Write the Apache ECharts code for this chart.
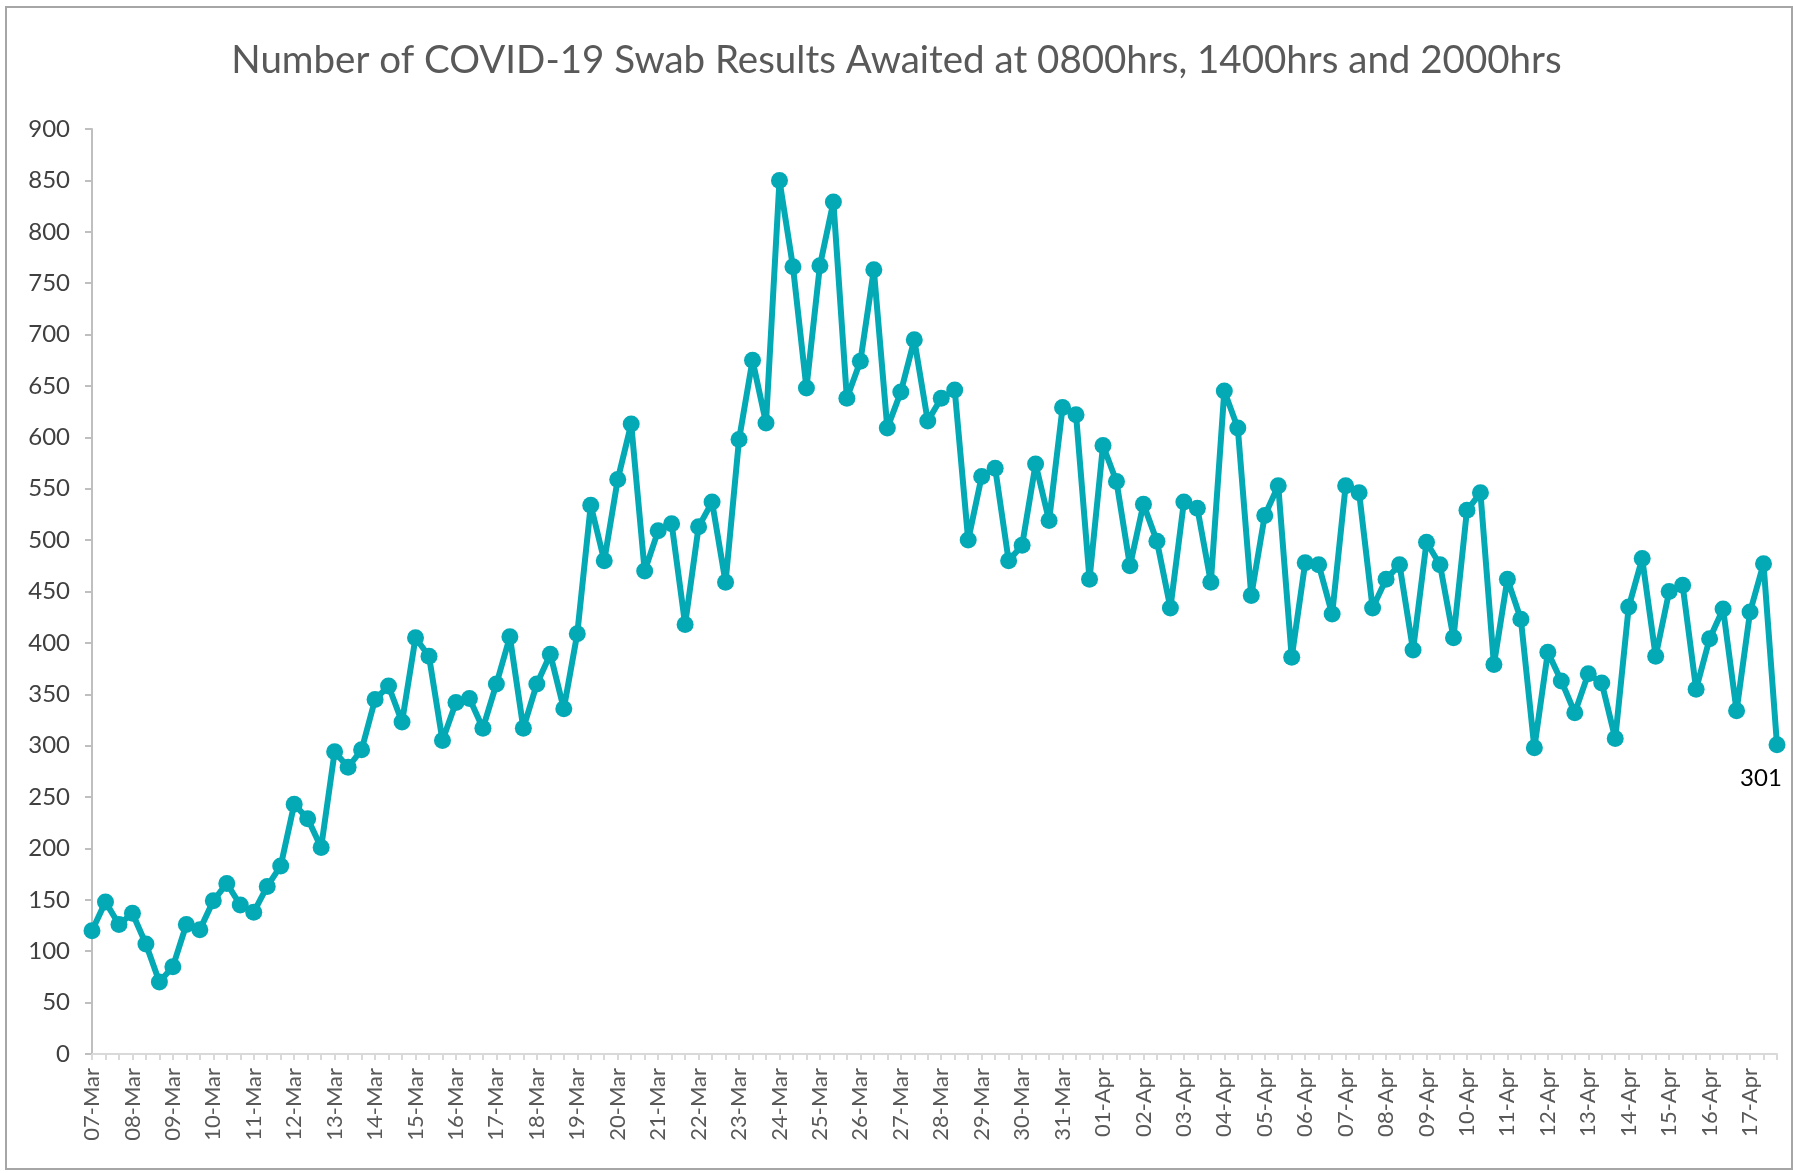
<!DOCTYPE html>
<html>
<head>
<meta charset="utf-8">
<script src="https://cdn.jsdelivr.net/npm/echarts@6/dist/echarts.min.js"></script>
<style>
html,body{margin:0;padding:0;background:#fff;}
#chart{width:1793px;height:1173px;}
</style>
</head>
<body>
<div id="chart"></div>
<script>
const days = ['07-Mar','08-Mar','09-Mar','10-Mar','11-Mar','12-Mar','13-Mar','14-Mar','15-Mar','16-Mar','17-Mar','18-Mar','19-Mar','20-Mar','21-Mar','22-Mar','23-Mar','24-Mar','25-Mar','26-Mar','27-Mar','28-Mar','29-Mar','30-Mar','31-Mar','01-Apr','02-Apr','03-Apr','04-Apr','05-Apr','06-Apr','07-Apr','08-Apr','09-Apr','10-Apr','11-Apr','12-Apr','13-Apr','14-Apr','15-Apr','16-Apr','17-Apr'];
const times = ['0800hrs','1400hrs','2000hrs'];
const awaited = [
  120, 148, 126, 137, 107, 70, 85, 126, 121, 149, 166, 145, 138, 163, 183, 243, 229, 201,
  294, 279, 296, 345, 358, 323, 405, 387, 305, 342, 346, 317, 360, 406, 317, 360, 389, 336,
  409, 534, 480, 559, 613, 470, 509, 516, 418, 513, 537, 459, 598, 675, 614, 850, 766, 648,
  767, 829, 638, 674, 763, 609, 644, 695, 616, 638, 646, 500, 562, 570, 480, 495, 574, 519,
  629, 622, 462, 592, 557, 475, 535, 499, 434, 537, 531, 459, 645, 609, 446, 524, 553, 386,
  478, 476, 428, 553, 546, 434, 462, 476, 393, 498, 476, 405, 529, 546, 379, 462, 423, 298,
  391, 363, 332, 370, 361, 307, 435, 482, 387, 450, 456, 355, 404, 433, 334, 430, 477, 301
];
const yTicks = {min: 0, max: 900, step: 50};
const titleText = 'Number of COVID-19 Swab Results Awaited at 0800hrs, 1400hrs and 2000hrs';

const categories = [];
days.forEach(d => times.forEach(t => categories.push(d + ' ' + t)));
const lastIdx = awaited.length - 1;
const seriesData = awaited.map((v, i) => i === lastIdx ? {value: v, label: {show: true}} : v);

const chart = echarts.init(document.getElementById('chart'), null, {renderer: 'canvas'});
chart.setOption({
  animation: false,
  backgroundColor: '#ffffff',
  title: {
    text: titleText,
    left: 'center',
    top: 36,
    textStyle: {fontFamily: 'Lato', fontSize: 38.5, fontWeight: 'normal', color: '#595959'}
  },
  graphic: [{
    type: 'rect',
    shape: {x: 6, y: 7, width: 1786, height: 1162},
    style: {fill: 'none', stroke: '#a6a6a6', lineWidth: 2},
    silent: true
  }],
  grid: {left: 92, right: 16, top: 129, bottom: 119, containLabel: false},
  xAxis: {
    type: 'category',
    data: categories,
    boundaryGap: false,
    axisLine: {show: true, lineStyle: {color: '#d9d9d9', width: 2}},
    axisTick: {show: true, interval: 0, length: 6, lineStyle: {color: '#d9d9d9', width: 2}},
    axisLabel: {
      interval: 2,
      rotate: 90,
      margin: 14,
      fontFamily: 'Lato',
      fontSize: 22,
      color: '#595959',
      formatter: v => v.split(' ')[0]
    },
    splitLine: {show: false}
  },
  yAxis: {
    type: 'value',
    min: yTicks.min,
    max: yTicks.max,
    interval: yTicks.step,
    axisLine: {show: true, lineStyle: {color: '#bfbfbf', width: 2}},
    axisTick: {show: true, length: 7, lineStyle: {color: '#bfbfbf', width: 2}},
    axisLabel: {margin: 22, fontFamily: 'Lato', fontSize: 24, color: '#404040'},
    splitLine: {show: false}
  },
  series: [{
    type: 'line',
    data: seriesData,
    symbol: 'circle',
    symbolSize: 17,
    showAllSymbol: true,
    lineStyle: {color: '#03a9b5', width: 6},
    itemStyle: {color: '#03a9b5'},
    label: {
      show: false,
      position: 'bottom',
      distance: 13,
      offset: [-16, 0],
      fontFamily: 'Lato',
      fontSize: 24,
      color: '#000000'
    }
  }]
});
</script>
</body>
</html>
